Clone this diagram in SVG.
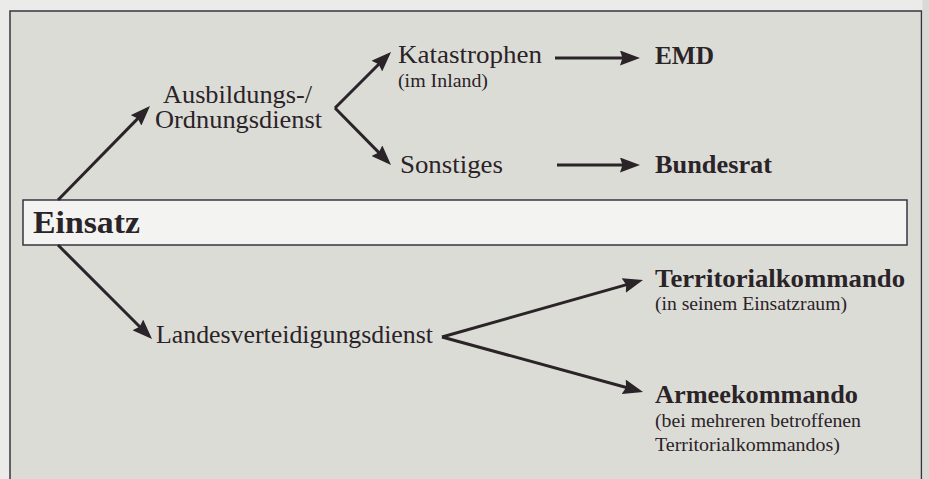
<svg xmlns="http://www.w3.org/2000/svg" width="929" height="479" viewBox="0 0 929 479">
<style>
.t{font-family:"Liberation Serif","Times New Roman",serif;fill:#2a2327;font-size:25px}
.b{font-weight:bold}
.s{font-size:18px}
.c line{stroke:#2a2327;stroke-width:3;marker-end:url(#ah)}
</style>
<defs>
<marker id="ah" markerUnits="userSpaceOnUse" markerWidth="20" markerHeight="15" refX="15" refY="7.5" orient="auto" viewBox="0 0 20 15">
<path d="M0,0 L20,7.5 L0,15 L2.5,7.5 z" fill="#2a2327"/>
</marker>
</defs>
<rect width="929" height="479" fill="#ebebe9"/>
<rect x="10" y="11" width="911.5" height="480" fill="#dcdcd7" stroke="#3a3340" stroke-width="1.5"/>
<rect x="922.5" y="0" width="6.5" height="479" fill="#d9d9d5"/>
<g id="einsatz">
<rect x="23" y="200" width="884" height="45" fill="#f3f3f1" stroke="#3a3340" stroke-width="1.5"/>
<text class="t b" x="33" y="233" textLength="107" lengthAdjust="spacingAndGlyphs" style="font-size:32px">Einsatz</text>
</g>
<g id="ausbildung">
<text class="t" x="163" y="103" textLength="149" lengthAdjust="spacingAndGlyphs">Ausbildungs-/</text>
<text class="t" x="155" y="128" textLength="167" lengthAdjust="spacingAndGlyphs">Ordnungsdienst</text>
</g>
<g id="katastrophen">
<text class="t" x="398" y="63" textLength="144" lengthAdjust="spacingAndGlyphs">Katastrophen</text>
<text class="t s" x="398" y="87" textLength="90" lengthAdjust="spacingAndGlyphs">(im Inland)</text>
</g>
<g id="sonstiges">
<text class="t" x="400" y="173" textLength="103" lengthAdjust="spacingAndGlyphs">Sonstiges</text>
</g>
<g id="emd">
<text class="t b" x="655" y="64" textLength="59" lengthAdjust="spacingAndGlyphs">EMD</text>
</g>
<g id="bundesrat">
<text class="t b" x="655" y="173" textLength="117" lengthAdjust="spacingAndGlyphs">Bundesrat</text>
</g>
<g id="landesverteidigung">
<text class="t" x="156" y="343" textLength="277" lengthAdjust="spacingAndGlyphs">Landesverteidigungsdienst</text>
</g>
<g id="territorialkommando">
<text class="t b" x="655" y="287" textLength="250" lengthAdjust="spacingAndGlyphs">Territorialkommando</text>
<text class="t s" x="655" y="310" textLength="192" lengthAdjust="spacingAndGlyphs">(in seinem Einsatzraum)</text>
</g>
<g id="armeekommando">
<text class="t b" x="655" y="403" textLength="203" lengthAdjust="spacingAndGlyphs">Armeekommando</text>
<text class="t s" x="655" y="427" textLength="206" lengthAdjust="spacingAndGlyphs">(bei mehreren betroffenen</text>
<text class="t s" x="655" y="451" textLength="185" lengthAdjust="spacingAndGlyphs">Territorialkommandos)</text>
</g>
<g id="connectors" class="c">
<line x1="58" y1="200" x2="146.5" y2="109.6"/>
<line x1="58" y1="245" x2="148.5" y2="335.5"/>
<line x1="335" y1="108" x2="387.5" y2="55.5"/>
<line x1="335" y1="108" x2="387.5" y2="161.4"/>
<line x1="555" y1="58" x2="635" y2="58"/>
<line x1="557" y1="165" x2="635" y2="165"/>
<line x1="442" y1="337" x2="638.2" y2="281.4"/>
<line x1="442" y1="337" x2="638.2" y2="390.7"/>
</g>
</svg>
